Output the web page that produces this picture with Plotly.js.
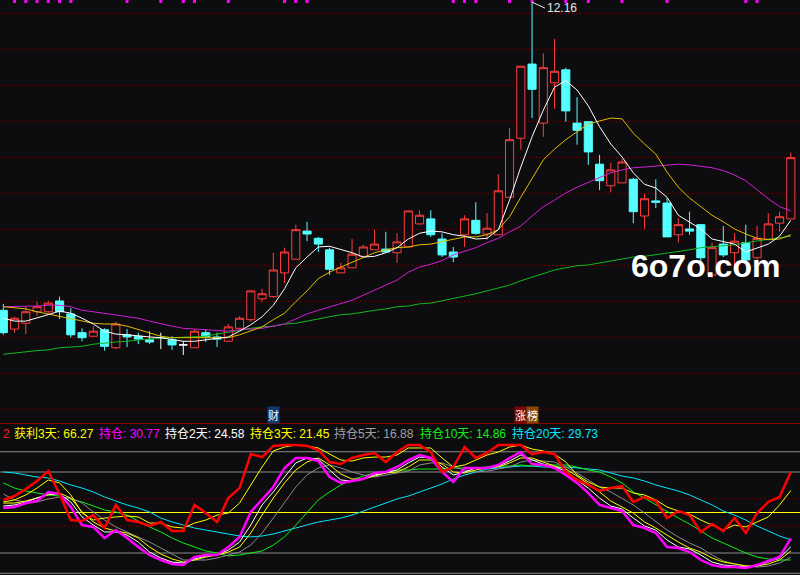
<!DOCTYPE html>
<html><head><meta charset="utf-8">
<script src="https://cdn.plot.ly/plotly-3.0.1.min.js"></script>
<style>html,body{margin:0;padding:0;background:#0d0d10;overflow:hidden}#chart{width:800px;height:575px}</style>
</head><body><div id="chart"></div>
<script>
// ---------- price candles ----------
const openP = [7.88,7.62,7.70,7.86,7.86,8.01,7.83,7.57,7.52,7.61,
7.36,7.54,7.52,7.47,7.50,7.47,7.40,7.36,7.57,7.51,
7.45,7.63,7.75,8.04,8.07,8.40,8.59,8.98,8.88,8.72,
8.40,8.47,8.63,8.72,8.73,8.68,8.76,9.08,9.15,8.87,
8.69,8.93,9.13,8.94,8.93,9.45,10.27,11.30,10.48,11.04,
11.22,10.48,10.50,9.91,9.61,9.65,9.70,9.19,9.40,9.37,
8.93,9.01,9.07,8.37,8.80,8.68,8.82,8.61,8.87,9.09,
9.15];
const highP = [7.97,7.79,7.93,8.00,8.01,8.07,7.91,7.63,7.66,7.63,
7.72,7.62,7.57,7.59,7.57,7.52,7.45,7.61,7.62,7.57,
7.69,7.80,8.16,8.18,8.68,8.75,9.07,9.11,8.90,8.75,
8.54,8.87,8.79,9.00,8.97,8.95,9.27,9.27,9.27,8.95,
8.76,9.20,9.38,9.23,9.77,10.41,11.27,12.16,11.45,11.65,
11.25,10.84,10.50,10.04,9.93,9.98,9.72,9.50,9.70,9.44,
9.16,9.25,9.07,8.82,9.05,8.95,9.07,9.05,9.23,9.25,
10.07];
const lowP = [7.54,7.57,7.55,7.80,7.84,7.76,7.50,7.45,7.52,7.32,
7.34,7.37,7.41,7.41,7.34,7.33,7.26,7.36,7.44,7.37,
7.45,7.62,7.72,8.00,8.05,8.26,8.59,8.84,8.69,8.37,
8.40,8.47,8.63,8.72,8.68,8.54,8.75,9.07,8.90,8.62,
8.55,8.76,8.93,8.86,8.93,9.45,10.11,10.55,10.29,10.68,
10.50,10.18,9.90,9.55,9.52,9.65,9.09,9.01,9.30,8.90,
8.82,8.93,8.48,8.33,8.62,8.44,8.55,8.55,8.86,8.97,
9.15];
const closeP = [7.57,7.77,7.86,7.93,7.98,7.86,7.54,7.50,7.59,7.38,
7.69,7.51,7.48,7.44,7.50,7.40,7.40,7.59,7.51,7.48,
7.65,7.77,8.15,8.11,8.44,8.69,9.00,8.94,8.80,8.45,
8.47,8.66,8.76,8.80,8.69,8.83,9.26,9.20,8.93,8.65,
8.62,9.15,8.95,9.02,9.54,10.25,11.27,10.95,11.25,11.20,
10.65,10.38,10.08,9.68,9.83,9.94,9.25,9.43,9.38,8.90,
9.07,8.98,8.61,8.75,8.65,8.84,8.58,8.88,9.08,9.18,
10.00];

// ---------- moving averages ----------
const ma5 = [7.77,7.73,7.73,7.77,7.82,7.87,7.84,7.77,7.69,7.59,
7.55,7.54,7.52,7.51,7.50,7.47,7.45,7.45,7.47,7.48,
7.51,7.59,7.68,7.79,7.95,8.18,8.47,8.62,8.76,8.77,
8.73,8.68,8.62,8.63,8.68,8.75,8.87,8.95,8.98,8.97,
8.93,8.91,8.87,8.88,9.00,9.41,9.87,10.29,10.66,10.98,
11.07,10.94,10.72,10.43,10.19,10.01,9.79,9.63,9.58,9.45,
9.20,9.11,9.01,8.87,8.83,8.80,8.69,8.75,8.80,8.91,
9.13];
const ma10 = [7.93,7.91,7.90,7.86,7.83,7.80,7.77,7.73,7.70,7.69,
7.69,7.66,7.61,7.57,7.52,7.50,7.50,7.50,7.50,7.50,
7.50,7.54,7.59,7.65,7.75,7.84,8.00,8.15,8.32,8.41,
8.48,8.55,8.62,8.68,8.72,8.75,8.76,8.79,8.80,8.83,
8.87,8.90,8.90,8.93,9.00,9.18,9.45,9.72,9.97,10.12,
10.25,10.36,10.47,10.51,10.55,10.54,10.34,10.19,10.05,9.80,
9.59,9.44,9.32,9.20,9.11,9.01,8.94,8.88,8.86,8.87,
8.93];
const ma20 = [7.93,7.93,7.93,7.94,7.95,7.95,7.93,7.88,7.86,7.84,
7.82,7.79,7.77,7.73,7.69,7.66,7.63,7.62,7.61,7.59,
7.59,7.61,7.62,7.63,7.66,7.69,7.76,7.83,7.88,7.93,
7.97,8.02,8.09,8.16,8.22,8.30,8.41,8.48,8.52,8.57,
8.65,8.70,8.75,8.82,8.88,8.97,9.05,9.19,9.32,9.41,
9.51,9.59,9.66,9.72,9.79,9.83,9.86,9.87,9.88,9.90,
9.91,9.90,9.88,9.86,9.82,9.76,9.68,9.55,9.43,9.32,
9.26];
const ma60 = [7.27,7.29,7.30,7.32,7.33,7.36,7.37,7.38,7.41,7.43,
7.44,7.45,7.47,7.48,7.50,7.50,7.51,7.51,7.52,7.55,
7.58,7.61,7.63,7.65,7.66,7.69,7.70,7.73,7.76,7.79,
7.82,7.83,7.86,7.88,7.90,7.93,7.94,7.97,7.98,8.01,
8.04,8.08,8.11,8.15,8.19,8.23,8.29,8.34,8.38,8.44,
8.47,8.50,8.51,8.54,8.57,8.59,8.62,8.63,8.65,8.68,
8.69,8.72,8.75,8.76,8.77,8.79,8.82,8.84,8.86,8.88,
8.91];

// candles flagged with a small magenta square at the top edge
const markIdx = [1,2,3,4,5,6,11,14,16,17,20,25,26,27,40,41,42,45,47,50,52,55,59,66,67];

// ---------- indicator panel ----------
const hl2 = [59.3,62.2,67.4,73.3,80.7,63.7,44.4,43.7,48.1,38.5,
55.6,44.4,43.0,40.0,43.0,36.3,36.3,55.6,49.6,43.0,
60.7,68.1,93.3,91.1,99.3,100,100,99.3,96.3,87.4,
85.9,90.4,92.6,94.1,87.4,94.8,100,100,94.8,80.0,
83.7,98.5,90.4,94.1,100,100,100,93.3,94.8,93.3,
80.0,74.1,70.4,65.9,68.1,69.6,57.8,61.5,58.5,45.9,
51.1,48.1,35.6,41.5,36.3,45.9,34.8,49.6,57.8,61.5,
80.0];
const hl3 = [57.8,59.3,63.0,68.1,74.1,71.9,63.0,49.6,44.4,45.9,
46.7,47.4,46.7,42.2,42.2,39.3,38.5,42.2,44.4,48.1,
49.6,57.0,70.4,83.7,95.6,98.5,100,99.3,97.8,93.3,
88.9,88.1,90.4,91.1,91.1,92.6,97.8,97.8,97.8,90.4,
83.7,85.2,88.9,92.6,94.8,98.5,100,97.0,95.6,93.3,
87.4,77.8,72.6,68.9,68.1,68.1,64.4,63.0,59.3,54.1,
51.1,48.9,44.4,40.7,37.0,40.7,39.3,43.0,46.7,55.6,
66.27];
const cc1 = [53.3,54.1,57.0,58.5,65.2,63.7,54.1,40.7,39.3,31.1,
37.0,31.1,24.4,18.5,14.8,11.9,11.1,17.0,18.5,18.5,
24.4,31.9,50.4,59.3,68.9,83.0,90.4,90.4,88.1,76.3,
71.9,73.3,74.8,79.3,80.0,83.7,88.9,92.6,90.4,80.0,
72.6,83.0,83.0,83.0,85.2,90.4,94.8,85.9,85.2,83.0,
77.8,71.9,64.4,55.6,53.3,51.1,40.7,38.5,34.8,24.4,
23.7,20.7,14.8,11.1,9.6,9.6,8.9,11.1,14.1,17.0,
30.77];
const cc2 = [54.8,55.6,57.8,60.7,63.7,63.7,57.8,46.7,40.7,35.6,
35.6,33.3,28.1,20.7,16.3,13.3,12.6,15.6,17.8,18.5,
22.2,28.1,40.7,55.6,65.2,76.3,86.7,90.4,89.6,81.5,
74.1,73.3,74.8,77.8,79.3,81.5,86.7,91.1,90.4,83.7,
77.8,80.0,83.0,83.0,84.4,88.1,92.6,88.9,85.9,83.7,
80.7,74.1,68.1,60.7,54.8,52.6,45.9,40.0,37.0,29.6,
24.4,23.0,18.5,13.3,11.1,10.4,9.6,10.4,13.3,16.3,
24.58];
const cc3 = [57.0,57.0,58.5,60.7,63.0,64.4,60.7,50.4,43.0,38.5,
36.3,34.8,31.1,24.4,19.3,15.6,13.3,14.8,17.0,18.5,
20.7,24.4,34.8,48.1,60.7,71.9,81.5,87.4,90.4,85.2,
78.5,74.8,74.8,77.0,79.3,80.0,83.7,88.9,88.9,85.9,
80.0,79.3,81.5,83.0,83.7,86.7,90.4,90.4,87.4,84.4,
82.2,77.0,71.1,65.2,58.5,54.1,49.6,43.0,38.5,33.3,
28.1,23.7,20.7,16.3,13.3,11.9,10.4,10.4,11.9,14.8,
21.45];
const cc5 = [63.7,59.3,57.8,57.8,60.0,61.5,60.7,57.0,50.4,44.4,
39.3,35.6,31.9,28.1,23.7,19.3,14.8,14.8,14.8,16.3,
18.5,20.7,25.9,34.8,45.9,57.8,68.9,77.8,83.0,85.2,
83.0,80.0,77.8,76.3,77.8,79.3,80.7,85.2,86.7,86.7,
83.7,81.5,80.0,80.7,82.2,83.7,87.4,88.9,88.1,87.4,
83.7,79.3,74.1,68.9,65.2,60.7,55.6,49.6,43.0,37.0,
31.9,27.4,23.7,18.5,14.1,11.9,10.4,9.6,10.4,12.6,
16.88];
const cc10 = [71.9,68.1,65.9,64.4,63.0,62.2,60.0,57.8,54.8,51.9,
50.4,48.1,43.7,39.3,35.6,31.1,27.4,24.4,21.5,20.0,
17.8,18.5,20.0,21.5,25.9,31.9,40.7,50.4,59.3,65.2,
70.4,74.1,77.0,79.3,80.0,81.5,81.5,82.2,82.2,82.2,
83.0,83.0,83.0,83.7,84.4,84.4,85.2,84.4,85.2,85.2,
85.2,83.7,81.5,80.0,76.3,71.9,65.2,60.7,55.6,50.4,
45.9,41.5,36.3,31.1,27.4,23.7,20.0,17.0,15.6,14.8,
14.86];
const cc20 = [80.0,79.3,77.8,76.3,75.6,73.3,70.4,68.1,65.2,61.5,
58.5,55.6,53.3,50.4,45.9,43.0,40.7,38.5,37.0,35.6,
34.1,32.6,31.9,32.6,34.1,36.3,38.5,40.7,43.0,44.4,
45.9,48.1,51.1,54.1,57.0,60.0,62.2,65.2,68.1,71.1,
74.8,77.8,80.0,82.2,83.0,83.7,84.4,84.4,83.7,83.7,
83.7,83.0,82.2,81.5,79.3,77.0,75.6,73.3,70.4,68.1,
65.9,63.0,59.3,55.6,51.1,48.1,44.4,40.0,36.3,32.6,
29.73];

const indNames = ['2','获利3天','持仓','持仓2天','持仓3天','持仓5天','持仓10天','持仓20天'];
const indSeries = [null, hl3, cc1, cc2, cc3, cc5, cc10, cc20];
const refLinesGray = [95, 80, 20, 5];
const refLineYellow = [50];
const refLinesDot = [60, 40];

// ---------- layout constants ----------
const BG = '#0d0d10';
const W = 800, H = 575;
const TOP_PX = 423, BOT_PX = 424;
const pxPerPrice = 72, priceTop = 12.19;
const priceRange = [priceTop - TOP_PX / pxPerPrice, priceTop];
const pxPerInd = 1.35, indZeroPx = 580;
const indRange = [(indZeroPx - H) / pxPerInd, (indZeroPx - BOT_PX) / pxPerInd];
const slot = 11.25, firstPx = 3.3;
const xRange = [-firstPx / slot, (W - firstPx) / slot];

const idx = closeP.map((_, i) => i);
const isDoji = idx.map(i => openP[i] === closeP[i]);
const pick = (arr, flag) => arr.map((v, i) => isDoji[i] === flag ? v : null);

const traces = [];
traces.push({
  type: 'candlestick', x: idx, xaxis: 'x', yaxis: 'y',
  open: pick(openP, false), high: pick(highP, false), low: pick(lowP, false), close: pick(closeP, false),
  increasing: {line: {color: '#ff3c3c', width: 1}, fillcolor: BG},
  decreasing: {line: {color: '#55ffff', width: 1}, fillcolor: '#55ffff'},
  whiskerwidth: 0, hoverinfo: 'skip'
});
traces.push({
  type: 'candlestick', x: idx, xaxis: 'x', yaxis: 'y',
  open: pick(openP, true), high: pick(highP, true), low: pick(lowP, true), close: pick(closeP, true),
  increasing: {line: {color: '#ffffff', width: 1}, fillcolor: '#ffffff'},
  decreasing: {line: {color: '#ffffff', width: 1}, fillcolor: '#ffffff'},
  whiskerwidth: 0, hoverinfo: 'skip'
});
const maStyle = [[ma60, '#12b81e'], [ma20, '#d21ed2'], [ma10, '#e0bd00'], [ma5, '#ffffff']];
maStyle.forEach(([arr, c]) => traces.push({
  type: 'scatter', mode: 'lines', x: idx, y: arr, xaxis: 'x', yaxis: 'y',
  line: {color: c, width: 1}, hoverinfo: 'skip'
}));
traces.push({
  type: 'scatter', mode: 'markers', x: markIdx, y: markIdx.map(() => priceTop - 0.021),
  xaxis: 'x', yaxis: 'y', cliponaxis: false,
  marker: {symbol: 'square', size: 3, color: '#ff00ff', line: {width: 0}}, hoverinfo: 'skip'
});

const indStyle = [
  [cc20, '#00e8ff', 1], [cc10, '#10f010', 1], [cc5, '#8c8c8c', 1], [cc3, '#ffff00', 1],
  [cc2, '#ffffff', 1], [hl3, '#ffff00', 1], [cc1, '#ff00ff', 2.5], [hl2, '#ff0000', 2.5]
];
indStyle.forEach(([arr, c, w]) => traces.push({
  type: 'scatter', mode: 'lines', x: idx, y: arr, xaxis: 'x2', yaxis: 'y2',
  line: {color: c, width: w}, hoverinfo: 'skip'
}));

// ---------- shapes ----------
const shapes = [];
const sepY = 1 - (TOP_PX + 0.5) / H;
shapes.push({type: 'line', xref: 'paper', yref: 'paper', x0: 0, x1: 1, y0: sepY, y1: sepY, line: {color: '#8a0000', width: 1}});
refLinesGray.forEach(v => shapes.push({type: 'line', layer: 'below', xref: 'paper', yref: 'y2', x0: 0, x1: 1, y0: v, y1: v, line: {color: '#8c8c8c', width: 1}}));
refLineYellow.forEach(v => shapes.push({type: 'line', layer: 'below', xref: 'paper', yref: 'y2', x0: 0, x1: 1, y0: v, y1: v, line: {color: '#ffff00', width: 1}}));
refLinesDot.forEach(v => shapes.push({type: 'line', layer: 'below', xref: 'paper', yref: 'y2', x0: 0, x1: 1, y0: v, y1: v, line: {color: '#8a0000', width: 1, dash: '1px,3px'}}));

// ---------- annotations ----------
const annotations = [];
const hiIdx = highP.indexOf(Math.max(...highP));
annotations.push({
  x: hiIdx, y: highP[hiIdx], xref: 'x', yref: 'y', text: highP[hiIdx].toFixed(2),
  showarrow: true, arrowhead: 0, arrowwidth: 1, arrowcolor: '#e6e6e6', ax: 13, ay: 6, standoff: 0,
  xanchor: 'left', yanchor: 'middle', font: {family: 'Liberation Sans, Arial, sans-serif', size: 12, color: '#e6e6e6'}
});
const labelPx = [2, 13, 98, 164, 249, 333, 419, 511];
const labelColors = ['#ff2020', '#ffff00', '#ff00ff', '#ffffff', '#ffff00', '#a0a0a0', '#10f010', '#00e8ff'];
indNames.forEach((n, k) => {
  const s = indSeries[k];
  const txt = s ? n + ': ' + s[s.length - 1].toFixed(2) : n;
  annotations.push({
    x: labelPx[k] / W, y: 1 - 433.5 / H, xref: 'paper', yref: 'paper', text: txt, showarrow: false,
    xanchor: 'left', yanchor: 'middle', borderpad: 0,
    font: {family: 'Liberation Sans, Noto Sans CJK SC, sans-serif', size: 12, color: labelColors[k]}
  });
});
const tagY = 1 - 415 / H;
[[24, '财', '#0f3a70'], [46, '涨', '#7a0808'], [47, '榜', '#8a4a06']].forEach(([i, t, bg]) => annotations.push({
  x: i, y: tagY, xref: 'x', yref: 'paper', text: t, showarrow: false, bgcolor: bg, borderpad: 0,
  xanchor: 'center', yanchor: 'middle', font: {family: 'Noto Sans CJK SC, sans-serif', size: 11, color: '#ffffff'}
}));
annotations.push({
  x: 705.5 / W, y: 1 - 266 / H, xref: 'paper', yref: 'paper', text: '<b>6o7o.com</b>', showarrow: false,
  xanchor: 'center', yanchor: 'middle', font: {family: 'Liberation Sans, Arial, sans-serif', size: 32, color: '#ffffff'}
});

const layout = {
  width: W, height: H, margin: {l: 0, r: 0, t: 0, b: 0, pad: 0},
  paper_bgcolor: BG, plot_bgcolor: BG, showlegend: false, hovermode: false,
  boxgap: 0.28, boxgroupgap: 0, boxmode: 'overlay',
  xaxis: {domain: [0, 1], range: xRange, visible: false, rangeslider: {visible: false}, anchor: 'y'},
  xaxis2: {domain: [0, 1], range: xRange, visible: false, anchor: 'y2'},
  yaxis: {domain: [1 - TOP_PX / H, 1], range: priceRange, anchor: 'x', showgrid: true, gridcolor: '#8a0000',
          griddash: '1px,3px', gridwidth: 1, dtick: 0.5, tick0: 0, showticklabels: false, ticks: '',
          zeroline: false, showline: false},
  yaxis2: {domain: [0, 1 - BOT_PX / H], range: indRange, anchor: 'x2', showgrid: false, showticklabels: false,
           ticks: '', zeroline: false, showline: false},
  shapes: shapes, annotations: annotations
};
Plotly.newPlot('chart', traces, layout, {staticPlot: true, displayModeBar: false});
</script>
</body></html>
